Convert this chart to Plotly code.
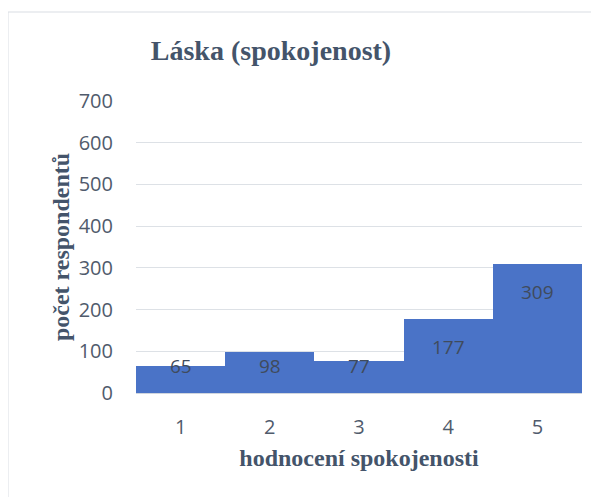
import plotly.graph_objects as go

categories = ["1", "2", "3", "4", "5"]
values = [65, 98, 77, 177, 309]
y_ticks = [0, 100, 200, 300, 400, 500, 600, 700]

title_text = "Láska (spokojenost)"
x_title = "hodnocení spokojenosti"
y_title = "počet respondentů"

serif = "Liberation Serif, Times New Roman, serif"
sans = "Open Sans, Noto Sans, sans-serif"
dark = "#44546a"

W, H = 591, 489  # page body has an 8px margin

fig = go.Figure()
fig.add_trace(go.Bar(
    x=list(range(len(categories))), y=values,
    marker=dict(color="#4a73c7", line=dict(width=0)),
    hoverinfo="y",
))

# data labels: inside end, kept above the bar bottom for short bars
for i, v in enumerate(values):
    fig.add_annotation(
        x=i, y=max(v - 67, 64), text=str(v), showarrow=False,
        xref="x", yref="y", yanchor="middle",
        font=dict(family=sans, size=19, color="#404b5c"),
    )

# chart border
fig.add_shape(type="rect", xref="paper", yref="paper",
              x0=-128/446, x1=1.2, y0=-0.5, y1=(292 + 89) / 292,
              line=dict(color="#d9dde3", width=1), fillcolor="rgba(0,0,0,0)",
              layer="below")

fig.update_layout(
    width=W, height=H,
    paper_bgcolor="white", plot_bgcolor="white",
    margin=dict(l=128, r=17, t=93, b=104),
    bargap=0,
    showlegend=False,
    title=dict(text=title_text, x=263/W, xanchor="center", y=1 - 42/H, yanchor="middle",
               font=dict(family=serif, size=28, color=dark, weight="bold")),
    xaxis=dict(
        range=[-0.5, 4.5],
        tickvals=list(range(len(categories))), ticktext=categories,
        showgrid=False, showline=True, linecolor="#d0d6de", linewidth=1,
        ticks="", ticklabelstandoff=16,
        tickfont=dict(family=sans, size=20, color="#505b6c"),
        title=dict(text=x_title, standoff=10,
                   font=dict(family=serif, size=24, color=dark, weight="bold")),
    ),
    yaxis=dict(
        range=[0, 700], tickvals=y_ticks,
        showgrid=True, gridcolor="#dde1e6", gridwidth=1,
        zeroline=False, showline=False, ticks="", ticklabelstandoff=22,
        tickfont=dict(family=sans, size=20, color="#505b6c"),
        title=dict(text=y_title, standoff=2,
                   font=dict(family=serif, size=24, color=dark, weight="bold")),
    ),
)

fig.write_html("out.html")
